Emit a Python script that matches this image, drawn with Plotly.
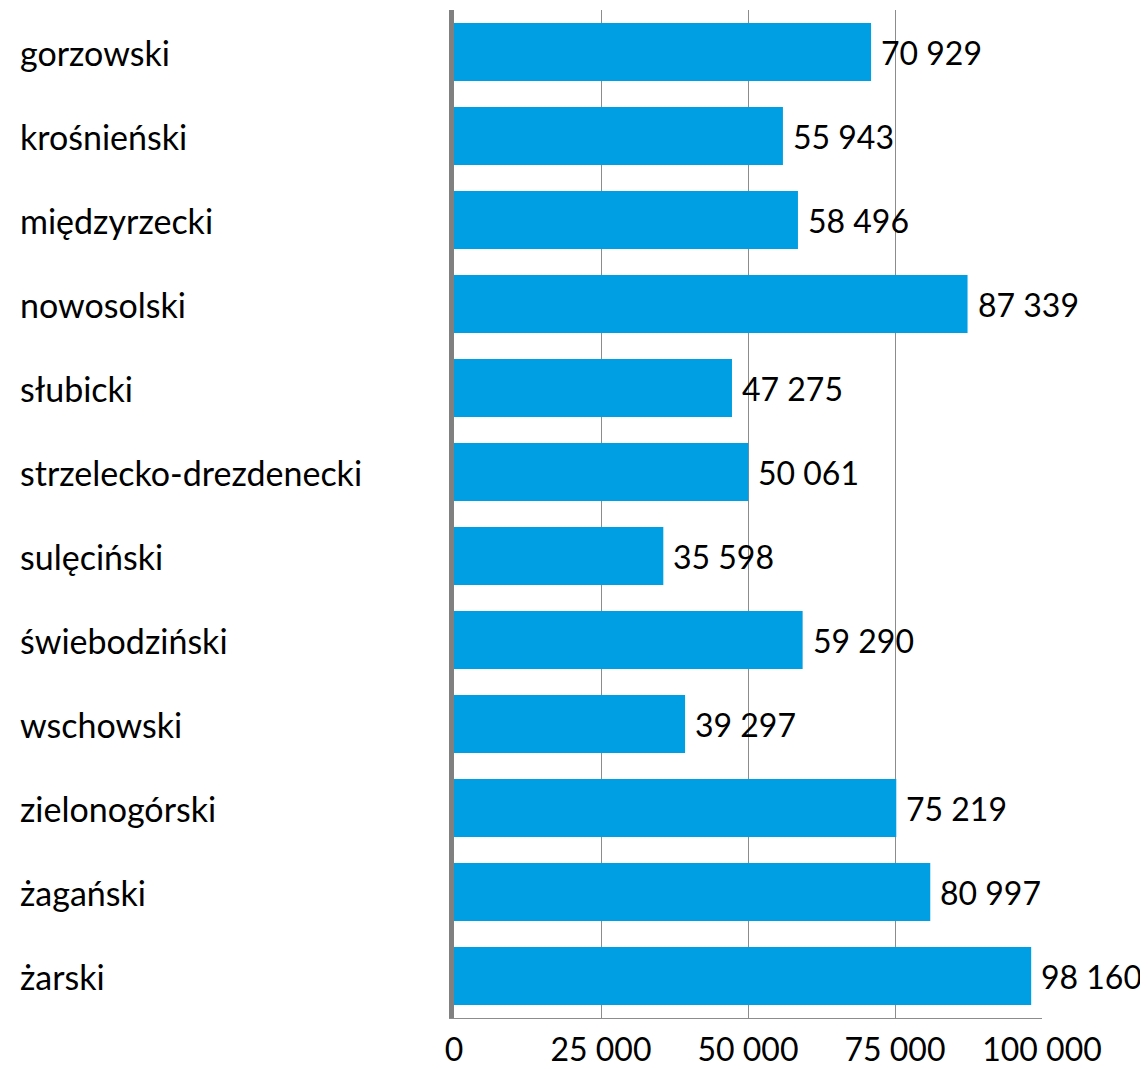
import plotly.graph_objects as go

categories = ["gorzowski", "krośnieński", "międzyrzecki", "nowosolski", "słubicki",
              "strzelecko-drezdenecki", "sulęciński", "świebodziński", "wschowski",
              "zielonogórski", "żagański", "żarski"]
values = [70929, 55943, 58496, 87339, 47275, 50061, 35598, 59290, 39297, 75219, 80997, 98160]
tick_vals = [0, 25000, 50000, 75000, 100000]
tick_text = ["0", "25 000", "50 000", "75 000", "100 000"]

FONT = "Lato, Carlito, Calibri, sans-serif"
labels = [f"{v:,}".replace(",", " ") for v in values]

fig = go.Figure(go.Bar(
    x=values, y=categories, orientation="h",
    marker=dict(color="#009FE3", line=dict(width=0)),
    hoverinfo="skip",
))

for c, v, t in zip(categories, values, labels):
    fig.add_annotation(x=v, xref="x", y=c, yref="y", text=t,
                       showarrow=False, xanchor="left", yanchor="middle", xshift=8,
                       font=dict(family=FONT, size=32, color="#000000"))

for c in categories:
    fig.add_annotation(x=-0.741, xref="paper", y=c, yref="y", text=c,
                       showarrow=False, xanchor="left", yanchor="middle",
                       font=dict(family=FONT, size=34, color="#000000"))

fig.update_layout(
    width=1140, height=1061,
    margin=dict(l=446, r=106, t=2, b=51),
    plot_bgcolor="white", paper_bgcolor="white",
    bargap=0.31, showlegend=False,
    font=dict(family=FONT, size=32, color="#000000"),
)
fig.update_xaxes(range=[0, 100000], tickvals=tick_vals, ticktext=tick_text,
                 showgrid=True, gridcolor="#8c8c8c", gridwidth=1,
                 zeroline=False, showline=True, linecolor="#8c8c8c", linewidth=1,
                 ticks="", ticklabelstandoff=4, automargin=False,
                 tickfont=dict(family=FONT, size=32, color="#000000"))
fig.update_yaxes(autorange="reversed", showticklabels=False, showgrid=False,
                 zeroline=False, showline=True, linecolor="#808080", linewidth=5,
                 ticks="", automargin=False)

fig.write_html("out.html")
